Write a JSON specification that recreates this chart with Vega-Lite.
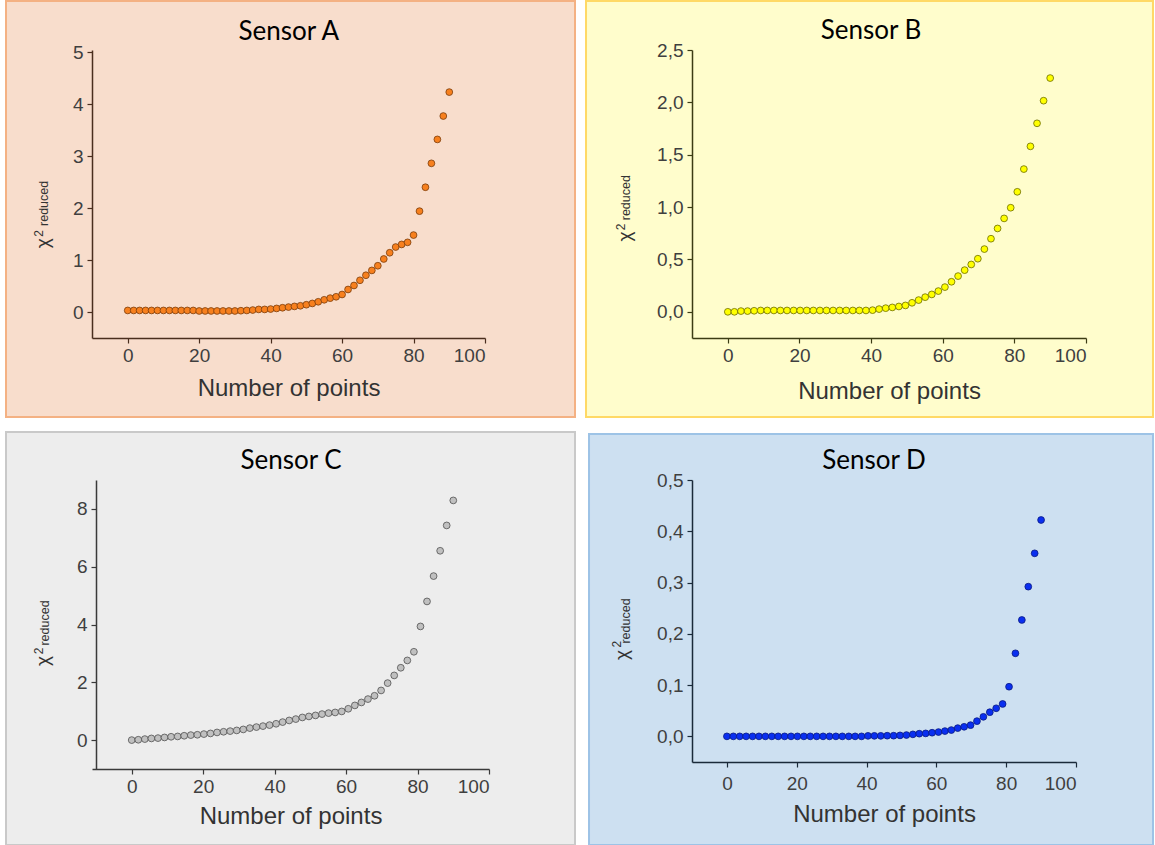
{
"$schema": "https://vega.github.io/schema/vega-lite/v6.json",
"background": "white",
"padding": {"left": 5, "top": -1, "right": 0, "bottom": 0},
"config": {
  "view": {"stroke": null},
  "axis": {"grid": false, "labelFont": "Liberation Sans", "titleFont": "Liberation Sans", "labelFontSize": 19, "titleFontSize": 24, "titleFontWeight": "normal", "labelColor": "#3f3f3f", "titleColor": "#333333", "domainWidth": 1.5, "tickWidth": 1.2, "tickSize": 5, "labelPadding": 3},
  "text": {"font": "Liberation Sans"}
},
"datasets": {
  "A": [{"x":0,"y":0.03},{"x":1.67,"y":0.03},{"x":3.33,"y":0.03},{"x":5,"y":0.03},{"x":6.67,"y":0.03},{"x":8.33,"y":0.03},{"x":10,"y":0.03},{"x":11.67,"y":0.03},{"x":13.33,"y":0.03},{"x":15,"y":0.03},{"x":16.67,"y":0.03},{"x":18.33,"y":0.03},{"x":20,"y":0.02},{"x":21.67,"y":0.02},{"x":23.33,"y":0.02},{"x":25,"y":0.02},{"x":26.67,"y":0.02},{"x":28.33,"y":0.02},{"x":30,"y":0.02},{"x":31.67,"y":0.025},{"x":33.33,"y":0.03},{"x":35,"y":0.038},{"x":36.67,"y":0.05},{"x":38.33,"y":0.05},{"x":40,"y":0.057},{"x":41.67,"y":0.069},{"x":43.33,"y":0.082},{"x":45,"y":0.095},{"x":46.67,"y":0.108},{"x":48.33,"y":0.12},{"x":50,"y":0.14},{"x":51.67,"y":0.165},{"x":53.33,"y":0.197},{"x":55,"y":0.235},{"x":56.67,"y":0.267},{"x":58.33,"y":0.293},{"x":60,"y":0.337},{"x":61.67,"y":0.433},{"x":63.33,"y":0.51},{"x":65,"y":0.61},{"x":66.67,"y":0.707},{"x":68.33,"y":0.8},{"x":70,"y":0.89},{"x":71.67,"y":1.02},{"x":73.33,"y":1.14},{"x":75,"y":1.25},{"x":76.67,"y":1.3},{"x":78.33,"y":1.34},{"x":80,"y":1.48},{"x":81.67,"y":1.94},{"x":83.33,"y":2.4},{"x":85,"y":2.86},{"x":86.67,"y":3.32},{"x":88.33,"y":3.77},{"x":90,"y":4.23}],
  "B": [{"x":0,"y":0},{"x":1.84,"y":0},{"x":3.67,"y":0.007},{"x":5.51,"y":0.007},{"x":7.35,"y":0.01},{"x":9.18,"y":0.013},{"x":11.02,"y":0.013},{"x":12.86,"y":0.013},{"x":14.69,"y":0.013},{"x":16.53,"y":0.013},{"x":18.37,"y":0.013},{"x":20.2,"y":0.013},{"x":22.04,"y":0.013},{"x":23.88,"y":0.013},{"x":25.71,"y":0.013},{"x":27.55,"y":0.013},{"x":29.39,"y":0.013},{"x":31.22,"y":0.013},{"x":33.06,"y":0.013},{"x":34.9,"y":0.013},{"x":36.73,"y":0.013},{"x":38.57,"y":0.013},{"x":40.41,"y":0.016},{"x":42.24,"y":0.026},{"x":44.08,"y":0.035},{"x":45.92,"y":0.042},{"x":47.76,"y":0.051},{"x":49.59,"y":0.061},{"x":51.43,"y":0.086},{"x":53.27,"y":0.112},{"x":55.1,"y":0.14},{"x":56.94,"y":0.166},{"x":58.78,"y":0.198},{"x":60.61,"y":0.236},{"x":62.45,"y":0.287},{"x":64.29,"y":0.341},{"x":66.12,"y":0.398},{"x":67.96,"y":0.452},{"x":69.8,"y":0.507},{"x":71.63,"y":0.599},{"x":73.47,"y":0.698},{"x":75.31,"y":0.796},{"x":77.14,"y":0.892},{"x":78.98,"y":0.994},{"x":80.82,"y":1.146},{"x":82.65,"y":1.363},{"x":84.49,"y":1.58},{"x":86.33,"y":1.8},{"x":88.16,"y":2.016},{"x":90,"y":2.232}],
  "C": [{"x":0,"y":0},{"x":1.84,"y":0.012},{"x":3.67,"y":0.035},{"x":5.51,"y":0.058},{"x":7.35,"y":0.069},{"x":9.18,"y":0.092},{"x":11.02,"y":0.115},{"x":12.86,"y":0.127},{"x":14.69,"y":0.15},{"x":16.53,"y":0.173},{"x":18.37,"y":0.185},{"x":20.2,"y":0.208},{"x":22.04,"y":0.231},{"x":23.88,"y":0.265},{"x":25.71,"y":0.288},{"x":27.55,"y":0.311},{"x":29.39,"y":0.335},{"x":31.22,"y":0.369},{"x":33.06,"y":0.415},{"x":34.9,"y":0.45},{"x":36.73,"y":0.484},{"x":38.57,"y":0.519},{"x":40.41,"y":0.565},{"x":42.24,"y":0.623},{"x":44.08,"y":0.68},{"x":45.92,"y":0.727},{"x":47.76,"y":0.784},{"x":49.59,"y":0.819},{"x":51.43,"y":0.854},{"x":53.27,"y":0.9},{"x":55.1,"y":0.934},{"x":56.94,"y":0.957},{"x":58.78,"y":0.992},{"x":60.61,"y":1.084},{"x":62.45,"y":1.2},{"x":64.29,"y":1.303},{"x":66.12,"y":1.419},{"x":67.96,"y":1.534},{"x":69.8,"y":1.718},{"x":71.63,"y":1.972},{"x":73.47,"y":2.238},{"x":75.31,"y":2.503},{"x":77.14,"y":2.757},{"x":78.98,"y":3.056},{"x":80.82,"y":3.933},{"x":82.65,"y":4.798},{"x":84.49,"y":5.675},{"x":86.33,"y":6.551},{"x":88.16,"y":7.428},{"x":90,"y":8.293}],
  "D": [{"x":0,"y":0},{"x":1.84,"y":0},{"x":3.67,"y":0},{"x":5.51,"y":0},{"x":7.35,"y":0},{"x":9.18,"y":0},{"x":11.02,"y":0},{"x":12.86,"y":0},{"x":14.69,"y":0},{"x":16.53,"y":0},{"x":18.37,"y":0},{"x":20.2,"y":0},{"x":22.04,"y":0},{"x":23.88,"y":0},{"x":25.71,"y":0},{"x":27.55,"y":0},{"x":29.39,"y":0},{"x":31.22,"y":0},{"x":33.06,"y":0},{"x":34.9,"y":0},{"x":36.73,"y":0},{"x":38.57,"y":0},{"x":40.41,"y":0.001},{"x":42.24,"y":0.001},{"x":44.08,"y":0.001},{"x":45.92,"y":0.0013},{"x":47.76,"y":0.0013},{"x":49.59,"y":0.0019},{"x":51.43,"y":0.0026},{"x":53.27,"y":0.0039},{"x":55.1,"y":0.0052},{"x":56.94,"y":0.0058},{"x":58.78,"y":0.0071},{"x":60.61,"y":0.0084},{"x":62.45,"y":0.0103},{"x":64.29,"y":0.0123},{"x":66.12,"y":0.0161},{"x":67.96,"y":0.0187},{"x":69.8,"y":0.0219},{"x":71.63,"y":0.0297},{"x":73.47,"y":0.0381},{"x":75.31,"y":0.0471},{"x":77.14,"y":0.0548},{"x":78.98,"y":0.0632},{"x":80.82,"y":0.0968},{"x":82.65,"y":0.162},{"x":84.49,"y":0.227},{"x":86.33,"y":0.292},{"x":88.16,"y":0.357},{"x":90,"y":0.422}]
},
"columns": 2,
"bounds": "flush",
"align": "all",
"spacing": {"row": 141, "column": 203},
"concat": [
  {"width": 393, "height": 288,
   "layer": [
    {"data": {"values": [{}]}, "mark": {"type": "rect", "fill": "#f8ddcc", "stroke": "#f4b183", "strokeWidth": 2},
     "encoding": {"x": {"datum": -34.07, "type": "quantitative", "scale": {"domain": [-10, 100], "nice": false, "zero": false}}, "x2": {"datum": 125.19},
                  "y": {"datum": 5.983, "type": "quantitative", "scale": {"domain": [-0.5, 5.04], "nice": false, "zero": false}}, "y2": {"datum": -2.02}}},
    {"data": {"name": "A"}, "mark": {"type": "point", "filled": true, "fill": "#f7801e", "stroke": "#7a3c0c", "strokeWidth": 0.8, "size": 46, "opacity": 1},
     "encoding": {"x": {"field": "x", "type": "quantitative", "scale": {"domain": [-10, 100], "nice": false, "zero": false},
                        "axis": {"zindex": 2, "values": [0,10,20,30,40,50,60,70,80,90,100], "labelExpr": "datum.value % 20 === 0 ? format(datum.value, 'd') : ''", "title": "Number of points", "titlePadding": 11, "domainColor": "#4a2e1e", "tickColor": "#4a2e1e"}},
                  "y": {"field": "y", "type": "quantitative", "scale": {"domain": [-0.5, 5.04], "nice": false, "zero": false},
                        "axis": {"zindex": 2, "values": [0,0.5,1,1.5,2,2.5,3,3.5,4,4.5,5], "labelExpr": "datum.value % 1 === 0 ? format(datum.value, 'd') : ''", "title": null, "labelPadding": 4, "domainColor": "#4a2e1e", "tickColor": "#4a2e1e"}}}},
    {"data": {"values": [{}]}, "mark": {"type": "text", "font": "Lato", "fontSize": 26, "fill": "#000000"},
     "encoding": {"x": {"datum": 45.1, "type": "quantitative", "scale": {"domain": [-10, 100], "nice": false, "zero": false}}, "y": {"datum": 5.386, "type": "quantitative", "scale": {"domain": [-0.5, 5.04], "nice": false, "zero": false}}, "text": {"value": "Sensor A"}}},
    {"data": {"values": [{}]}, "mark": {"type": "text", "fontSize": 19, "angle": 270, "fill": "#333333"},
     "encoding": {"x": {"datum": -23.6, "type": "quantitative", "scale": {"domain": [-10, 100], "nice": false, "zero": false}}, "y": {"datum": 1.32, "type": "quantitative", "scale": {"domain": [-0.5, 5.04], "nice": false, "zero": false}}, "text": {"value": "χ"}}},
    {"data": {"values": [{}]}, "mark": {"type": "text", "fontSize": 12, "angle": 270, "fill": "#333333"},
     "encoding": {"x": {"datum": -24.7, "type": "quantitative", "scale": {"domain": [-10, 100], "nice": false, "zero": false}}, "y": {"datum": 1.51, "type": "quantitative", "scale": {"domain": [-0.5, 5.04], "nice": false, "zero": false}}, "text": {"value": "2"}}},
    {"data": {"values": [{}]}, "mark": {"type": "text", "fontSize": 12.5, "angle": 270, "fill": "#333333"},
     "encoding": {"x": {"datum": -23.3, "type": "quantitative", "scale": {"domain": [-10, 100], "nice": false, "zero": false}}, "y": {"datum": 2.09, "type": "quantitative", "scale": {"domain": [-0.5, 5.04], "nice": false, "zero": false}}, "text": {"value": "reduced"}}}
   ]},
  {"width": 394, "height": 288,
   "layer": [
    {"data": {"values": [{}]}, "mark": {"type": "rect", "fill": "#fffdcc", "stroke": "#ffd966", "strokeWidth": 2},
     "encoding": {"x": {"datum": -39.59, "type": "quantitative", "scale": {"domain": [-10, 100], "nice": false, "zero": false}}, "x2": {"datum": 118.7},
                  "y": {"datum": 2.968, "type": "quantitative", "scale": {"domain": [-0.25, 2.5], "nice": false, "zero": false}}, "y2": {"datum": -1.004}}},
    {"data": {"name": "B"}, "mark": {"type": "point", "filled": true, "fill": "#ffff00", "stroke": "#6b6b00", "strokeWidth": 0.8, "size": 46, "opacity": 1},
     "encoding": {"x": {"field": "x", "type": "quantitative", "scale": {"domain": [-10, 100], "nice": false, "zero": false},
                        "axis": {"zindex": 2, "values": [0,10,20,30,40,50,60,70,80,90,100], "labelExpr": "datum.value % 20 === 0 ? format(datum.value, 'd') : ''", "title": "Number of points", "titlePadding": 14, "domainColor": "#3c3c14", "tickColor": "#3c3c14"}},
                  "y": {"field": "y", "type": "quantitative", "scale": {"domain": [-0.25, 2.5], "nice": false, "zero": false},
                        "axis": {"zindex": 2, "values": [0,0.25,0.5,0.75,1,1.25,1.5,1.75,2,2.25,2.5], "labelExpr": "round(datum.value * 4) % 2 === 0 ? replace(format(datum.value, '.1f'), '.', ',') : ''", "title": null, "labelPadding": 4, "domainColor": "#3c3c14", "tickColor": "#3c3c14"}}}},
    {"data": {"values": [{}]}, "mark": {"type": "text", "font": "Lato", "fontSize": 26, "fill": "#000000"},
     "encoding": {"x": {"datum": 39.98, "type": "quantitative", "scale": {"domain": [-10, 100], "nice": false, "zero": false}}, "y": {"datum": 2.681, "type": "quantitative", "scale": {"domain": [-0.25, 2.5], "nice": false, "zero": false}}, "text": {"value": "Sensor B"}}},
    {"data": {"values": [{}]}, "mark": {"type": "text", "fontSize": 19, "angle": 270, "fill": "#333333"},
     "encoding": {"x": {"datum": -28.7, "type": "quantitative", "scale": {"domain": [-10, 100], "nice": false, "zero": false}}, "y": {"datum": 0.72, "type": "quantitative", "scale": {"domain": [-0.25, 2.5], "nice": false, "zero": false}}, "text": {"value": "χ"}}},
    {"data": {"values": [{}]}, "mark": {"type": "text", "fontSize": 12, "angle": 270, "fill": "#333333"},
     "encoding": {"x": {"datum": -29.9, "type": "quantitative", "scale": {"domain": [-10, 100], "nice": false, "zero": false}}, "y": {"datum": 0.81, "type": "quantitative", "scale": {"domain": [-0.25, 2.5], "nice": false, "zero": false}}, "text": {"value": "2"}}},
    {"data": {"values": [{}]}, "mark": {"type": "text", "fontSize": 12.5, "angle": 270, "fill": "#333333"},
     "encoding": {"x": {"datum": -28.3, "type": "quantitative", "scale": {"domain": [-10, 100], "nice": false, "zero": false}}, "y": {"datum": 1.09, "type": "quantitative", "scale": {"domain": [-0.25, 2.5], "nice": false, "zero": false}}, "text": {"value": "reduced"}}}
   ]},
  {"width": 397, "height": 289,
   "layer": [
    {"data": {"values": [{}]}, "mark": {"type": "rect", "fill": "#ededed", "stroke": "#c9c9c9", "strokeWidth": 2},
     "encoding": {"x": {"datum": -35.19, "type": "quantitative", "scale": {"domain": [-11.12, 100], "nice": false, "zero": false}}, "x2": {"datum": 124.07},
                  "y": {"datum": 10.661, "type": "quantitative", "scale": {"domain": [-1, 9], "nice": false, "zero": false}}, "y2": {"datum": -3.63}}},
    {"data": {"name": "C"}, "mark": {"type": "point", "filled": true, "fill": "#c0c0c0", "stroke": "#505050", "strokeWidth": 0.8, "size": 46, "opacity": 1},
     "encoding": {"x": {"field": "x", "type": "quantitative", "scale": {"domain": [-11.12, 100], "nice": false, "zero": false},
                        "axis": {"zindex": 2, "values": [0,10,20,30,40,50,60,70,80,90,100], "labelExpr": "datum.value % 20 === 0 ? format(datum.value, 'd') : ''", "title": "Number of points", "titlePadding": 8, "domainColor": "#3a3a3a", "tickColor": "#3a3a3a"}},
                  "y": {"field": "y", "type": "quantitative", "scale": {"domain": [-1, 9], "nice": false, "zero": false},
                        "axis": {"zindex": 2, "offset": -4, "values": [0,1,2,3,4,5,6,7,8,9], "labelExpr": "datum.value % 2 === 0 ? format(datum.value, 'd') : ''", "title": null, "labelPadding": 4, "domainColor": "#3a3a3a", "tickColor": "#3a3a3a"}}}},
    {"data": {"values": [{}]}, "mark": {"type": "text", "font": "Lato", "fontSize": 26, "fill": "#000000"},
     "encoding": {"x": {"datum": 44.58, "type": "quantitative", "scale": {"domain": [-11.12, 100], "nice": false, "zero": false}}, "y": {"datum": 9.657, "type": "quantitative", "scale": {"domain": [-1, 9], "nice": false, "zero": false}}, "text": {"value": "Sensor C"}}},
    {"data": {"values": [{}]}, "mark": {"type": "text", "fontSize": 19, "angle": 270, "fill": "#333333"},
     "encoding": {"x": {"datum": -24.83, "type": "quantitative", "scale": {"domain": [-11.12, 100], "nice": false, "zero": false}}, "y": {"datum": 2.737, "type": "quantitative", "scale": {"domain": [-1, 9], "nice": false, "zero": false}}, "text": {"value": "χ"}}},
    {"data": {"values": [{}]}, "mark": {"type": "text", "fontSize": 12, "angle": 270, "fill": "#333333"},
     "encoding": {"x": {"datum": -25.95, "type": "quantitative", "scale": {"domain": [-11.12, 100], "nice": false, "zero": false}}, "y": {"datum": 3.083, "type": "quantitative", "scale": {"domain": [-1, 9], "nice": false, "zero": false}}, "text": {"value": "2"}}},
    {"data": {"values": [{}]}, "mark": {"type": "text", "fontSize": 12.5, "angle": 270, "fill": "#333333"},
     "encoding": {"x": {"datum": -24.27, "type": "quantitative", "scale": {"domain": [-11.12, 100], "nice": false, "zero": false}}, "y": {"datum": 4.052, "type": "quantitative", "scale": {"domain": [-1, 9], "nice": false, "zero": false}}, "text": {"value": "reduced"}}}
   ]},
  {"width": 384, "height": 282,
   "layer": [
    {"data": {"values": [{}]}, "mark": {"type": "rect", "fill": "#cde0f1", "stroke": "#9dc3e6", "strokeWidth": 2},
     "encoding": {"x": {"datum": -39.5, "type": "quantitative", "scale": {"domain": [-10, 100], "nice": false, "zero": false}}, "x2": {"datum": 122.06},
                  "y": {"datum": 0.5897, "type": "quantitative", "scale": {"domain": [-0.05, 0.5], "nice": false, "zero": false}}, "y2": {"datum": -0.2119}}},
    {"data": {"name": "D"}, "mark": {"type": "point", "filled": true, "fill": "#0a2ff0", "stroke": "#0a1a80", "strokeWidth": 0.8, "size": 46, "opacity": 1},
     "encoding": {"x": {"field": "x", "type": "quantitative", "scale": {"domain": [-10, 100], "nice": false, "zero": false},
                        "axis": {"zindex": 2, "values": [0,10,20,30,40,50,60,70,80,90,100], "labelExpr": "datum.value % 20 === 0 ? format(datum.value, 'd') : ''", "title": "Number of points", "titlePadding": 9, "labelPadding": 7, "domainColor": "#1a2a3a", "tickColor": "#1a2a3a"}},
                  "y": {"field": "y", "type": "quantitative", "scale": {"domain": [-0.05, 0.5], "nice": false, "zero": false},
                        "axis": {"zindex": 2, "values": [0,0.05,0.1,0.15,0.2,0.25,0.3,0.35,0.4,0.45,0.5], "labelExpr": "round(datum.value * 20) % 2 === 0 ? replace(format(datum.value, '.1f'), '.', ',') : ''", "title": null, "labelPadding": 4, "domainColor": "#1a2a3a", "tickColor": "#1a2a3a"}}}},
    {"data": {"values": [{}]}, "mark": {"type": "text", "font": "Lato", "fontSize": 26, "fill": "#000000"},
     "encoding": {"x": {"datum": 42.14, "type": "quantitative", "scale": {"domain": [-10, 100], "nice": false, "zero": false}}, "y": {"datum": 0.537, "type": "quantitative", "scale": {"domain": [-0.05, 0.5], "nice": false, "zero": false}}, "text": {"value": "Sensor D"}}},
    {"data": {"values": [{}]}, "mark": {"type": "text", "fontSize": 19, "angle": 270, "fill": "#333333"},
     "encoding": {"x": {"datum": -30.1, "type": "quantitative", "scale": {"domain": [-10, 100], "nice": false, "zero": false}}, "y": {"datum": 0.1587, "type": "quantitative", "scale": {"domain": [-0.05, 0.5], "nice": false, "zero": false}}, "text": {"value": "χ"}}},
    {"data": {"values": [{}]}, "mark": {"type": "text", "fontSize": 12, "angle": 270, "fill": "#333333"},
     "encoding": {"x": {"datum": -31.5, "type": "quantitative", "scale": {"domain": [-10, 100], "nice": false, "zero": false}}, "y": {"datum": 0.18, "type": "quantitative", "scale": {"domain": [-0.05, 0.5], "nice": false, "zero": false}}, "text": {"value": "2"}}},
    {"data": {"values": [{}]}, "mark": {"type": "text", "fontSize": 12.5, "angle": 270, "fill": "#333333"},
     "encoding": {"x": {"datum": -28.9, "type": "quantitative", "scale": {"domain": [-10, 100], "nice": false, "zero": false}}, "y": {"datum": 0.225, "type": "quantitative", "scale": {"domain": [-0.05, 0.5], "nice": false, "zero": false}}, "text": {"value": "reduced"}}}
   ]}
]
}
